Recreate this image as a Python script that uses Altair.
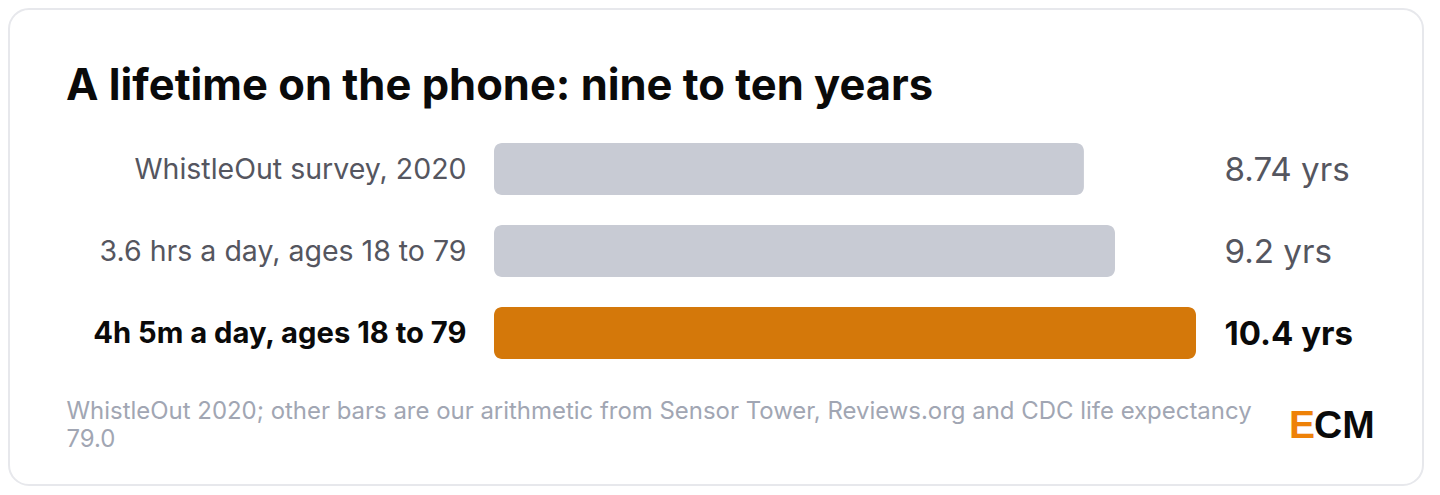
import pandas as pd
import altair as alt

labels = ["WhistleOut survey, 2020", "3.6 hrs a day, ages 18 to 79", "4h 5m a day, ages 18 to 79"]
years = [8.74, 9.2, 10.4]
value_text = ["8.74 yrs", "9.2 yrs", "10.4 yrs"]
bar_colors = ["#C8CBD4", "#C8CBD4", "#D4780A"]
highlight = labels[2]
title_text = "A lifetime on the phone: nine to ten years"
note_lines = [
    "WhistleOut 2020; other bars are our arithmetic from Sensor Tower, Reviews.org and CDC life expectancy",
    "79.0",
]

FONT = "Inter"
d = pd.DataFrame({"label": labels, "years": years, "text": value_text, "color": bar_colors})
one = pd.DataFrame({"a": [0]})

is_top = f"datum.label == '{highlight}'"

# --- card behind everything ---
card = (
    alt.Chart(one)
    .mark_rect(fill="white", stroke="#E7E8EC", strokeWidth=2, cornerRadius=20)
    .encode(x=alt.value(-485), x2=alt.value(929), y=alt.value(-134), y2=alt.value(342))
)

bars = (
    alt.Chart(d)
    .mark_bar(cornerRadius=8)
    .encode(
        x=alt.X("years:Q", scale=alt.Scale(domain=[0, 10.4], nice=False), axis=None),
        y=alt.Y(
            "label:N",
            sort=labels,
            title=None,
            scale=alt.Scale(paddingInner=30 / 82, paddingOuter=0),
            axis=alt.Axis(
                domain=False,
                ticks=False,
                labelPadding=28,
                labelLimit=420,
                labelOffset=1,
                labelFont=FONT,
                labelFontSize={"expr": f"datum.value == '{highlight}' ? 29.2 : 28.5"},
                labelFontWeight={"expr": f"datum.value == '{highlight}' ? 700 : 400"},
                labelColor={"expr": f"datum.value == '{highlight}' ? '#0A0A0A' : '#55565F'"},
                zindex=1,
            ),
        ),
        color=alt.Color("color:N", scale=None, legend=None),
    )
)

values = (
    alt.Chart(d)
    .transform_filter(f"!({is_top})")
    .mark_text(align="left", baseline="middle", dy=1.5, font=FONT, fontSize=33.2, color="#55565F")
    .encode(x=alt.value(730.5), y=alt.Y("label:N", sort=labels), text="text:N")
)
values_top = (
    alt.Chart(d)
    .transform_filter(is_top)
    .mark_text(align="left", baseline="middle", dy=1.5, font=FONT, fontSize=33, fontWeight=700, color="#0A0A0A")
    .encode(x=alt.value(730.5), y=alt.Y("label:N", sort=labels), text="text:N")
)

title = (
    alt.Chart(pd.DataFrame({"t": [title_text]}))
    .mark_text(align="left", baseline="alphabetic", font=FONT, fontSize=43.5, fontWeight=700, color="#0A0A0A")
    .encode(x=alt.value(-428), y=alt.value(-43.5), text="t:N")
)

note = (
    alt.Chart(pd.DataFrame({"t": [note_lines]}))
    .mark_text(align="left", baseline="alphabetic", font=FONT, fontSize=23.95, lineHeight=28, color="#A1A6B3")
    .encode(x=alt.value(-427.5), y=alt.value(275.5), text="t:N")
)

logo_e = (
    alt.Chart(pd.DataFrame({"t": ["E"]}))
    .mark_text(align="left", baseline="alphabetic", font="Liberation Sans", fontSize=39, fontWeight=700, color="#EE8208")
    .encode(x=alt.value(795), y=alt.value(295), text="t:N")
)
logo_cm = (
    alt.Chart(pd.DataFrame({"t": ["CM"]}))
    .mark_text(align="left", baseline="alphabetic", font="Liberation Sans", fontSize=39, fontWeight=700, color="#0A0A0A")
    .encode(x=alt.value(820), y=alt.value(295), text="t:N")
)

chart = (
    alt.layer(card, bars, values, values_top, title, note, logo_e, logo_cm)
    .properties(
        width=702,
        height=216,
        padding={"left": 486, "top": 135, "right": 236, "bottom": 128},
        autosize=alt.AutoSizeParams(type="none"),
        background="white",
    )
    .configure_view(stroke=None)
)

chart.save("out.html", embed_options={"renderer": "svg", "actions": False})
